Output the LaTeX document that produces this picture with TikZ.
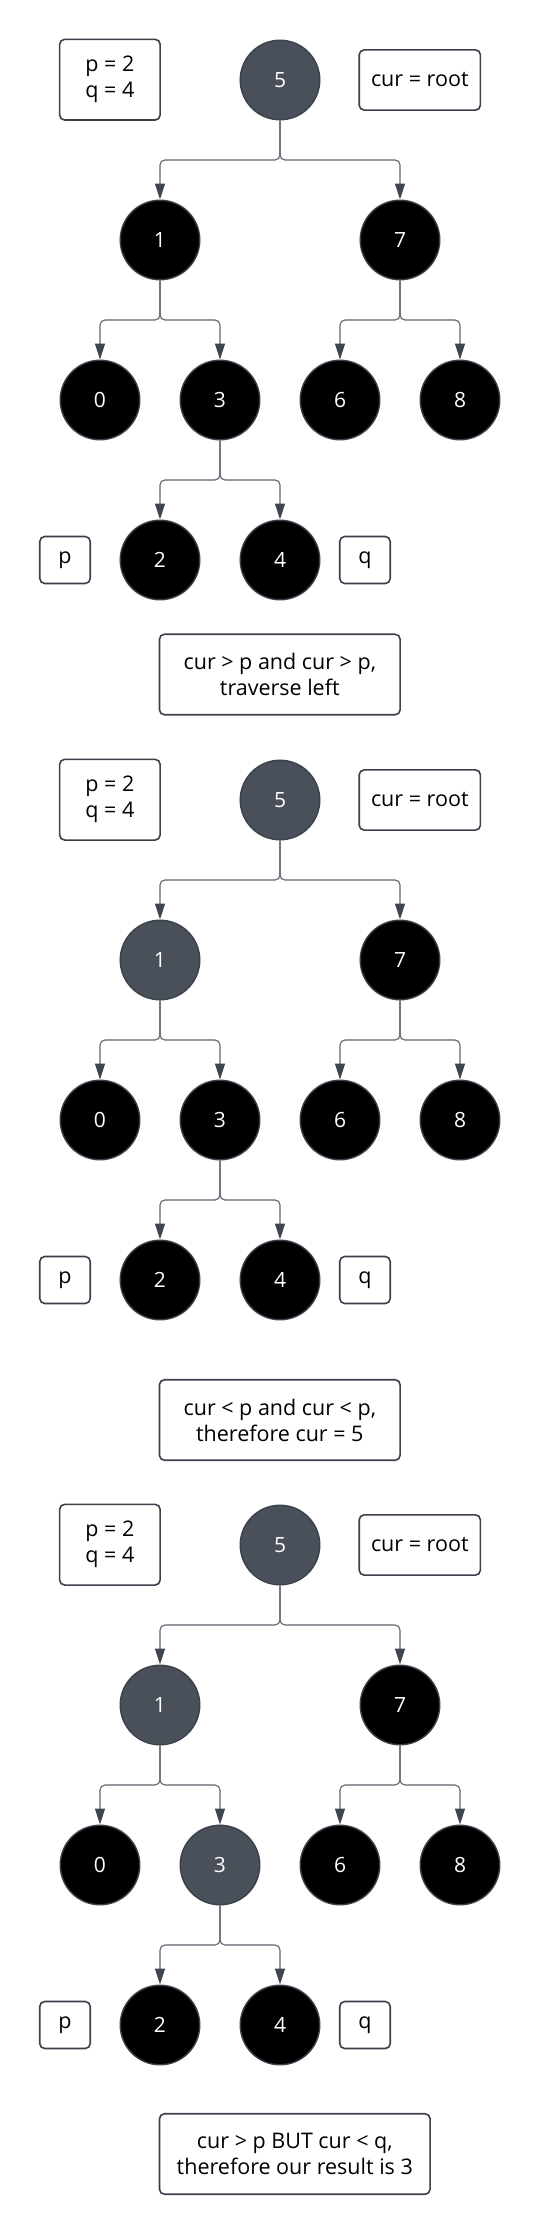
\documentclass[tikz,border=0pt]{standalone}
\usepackage{fontspec}
\setmainfont{Open Sans}
\usetikzlibrary{arrows.meta}
\definecolor{nodegray}{HTML}{4A505A}
\definecolor{edgegray}{HTML}{5F6570}
\definecolor{bordergray}{HTML}{3B414B}
\definecolor{tipgray}{HTML}{3F4550}
\tikzset{
 tnode/.style={circle, minimum size=79.5pt, inner sep=0pt, draw=bordergray, line width=1.4pt, text=white, font=\fontsize{21}{25}\selectfont},
 blk/.style={tnode, fill=black},
 gry/.style={tnode, fill=nodegray},
 infobox/.style={draw=bordergray, line width=1.6pt, rounded corners=5pt, fill=white, align=center, inner sep=0pt, font=\fontsize{21.5}{26}\selectfont},
 treeedge/.style={draw=edgegray, line width=1.1pt, rounded corners=5pt, -{Triangle[length=16pt,width=10pt,color=tipgray]}},
}
\newcommand{\drawpanel}[4]{%
\begin{scope}[yshift=-#2pt]
 \node[infobox, minimum width=100.5pt, minimum height=80.7pt] (pq#1) at (109.9,-79.7) {p = 2\\q = 4};
 \node[gry] (r#1) at (280,-80) {5};
 \node[infobox, minimum width=121.2pt, minimum height=60.3pt] (cur#1) at (419.8,-80) {cur = root};
 \node[#3] (a#1) at (160,-240) {1};
 \node[blk] (b#1) at (400,-240) {7};
 \node[blk] (c#1) at (100,-400) {0};
 \node[#4] (d#1) at (220,-400) {3};
 \node[blk] (e#1) at (340,-400) {6};
 \node[blk] (g#1) at (460,-400) {8};
 \node[blk] (h#1) at (160,-560) {2};
 \node[blk] (k#1) at (280,-560) {4};
 \node[infobox, minimum width=50.5pt, minimum height=47pt] (p#1) at (65,-560) {p};
 \node[infobox, minimum width=50.5pt, minimum height=47pt] (q#1) at (365,-560) {q};
 \coordinate (fa#1) at (0,-160);
 \coordinate (fb#1) at (0,-320);
 \coordinate (fc#1) at (0,-480);
 \draw[treeedge] (r#1.south) -- (r#1.south |- fa#1) -- (a#1.north |- fa#1) -- (a#1.north);
 \draw[treeedge] (r#1.south) -- (r#1.south |- fa#1) -- (b#1.north |- fa#1) -- (b#1.north);
 \draw[treeedge] (a#1.south) -- (a#1.south |- fb#1) -- (c#1.north |- fb#1) -- (c#1.north);
 \draw[treeedge] (a#1.south) -- (a#1.south |- fb#1) -- (d#1.north |- fb#1) -- (d#1.north);
 \draw[treeedge] (b#1.south) -- (b#1.south |- fb#1) -- (e#1.north |- fb#1) -- (e#1.north);
 \draw[treeedge] (b#1.south) -- (b#1.south |- fb#1) -- (g#1.north |- fb#1) -- (g#1.north);
 \draw[treeedge] (d#1.south) -- (d#1.south |- fc#1) -- (h#1.north |- fc#1) -- (h#1.north);
 \draw[treeedge] (d#1.south) -- (d#1.south |- fc#1) -- (k#1.north |- fc#1) -- (k#1.north);
\end{scope}}
\begin{document}
\begin{tikzpicture}[x=1pt,y=1pt]
 \fill[white] (0,0) rectangle (540,-2234);
 \useasboundingbox (0,0) rectangle (540,-2234);
 \drawpanel{A}{0}{blk}{blk}
 \drawpanel{B}{720}{gry}{blk}
 \drawpanel{C}{1465}{gry}{gry}
 \node[infobox, minimum width=240.7pt, minimum height=80.5pt] (tA) at (279.8,-674.5) {cur > p and cur > p,\\traverse left};
 \node[infobox, minimum width=240.7pt, minimum height=80.5pt] (tB) at (279.8,-1420) {cur < p and cur < p,\\therefore cur = 5};
 \node[infobox, minimum width=270.6pt, minimum height=80.5pt] (tC) at (294.8,-2154) {cur > p BUT cur < q,\\therefore our result is 3};
\end{tikzpicture}
\end{document}
